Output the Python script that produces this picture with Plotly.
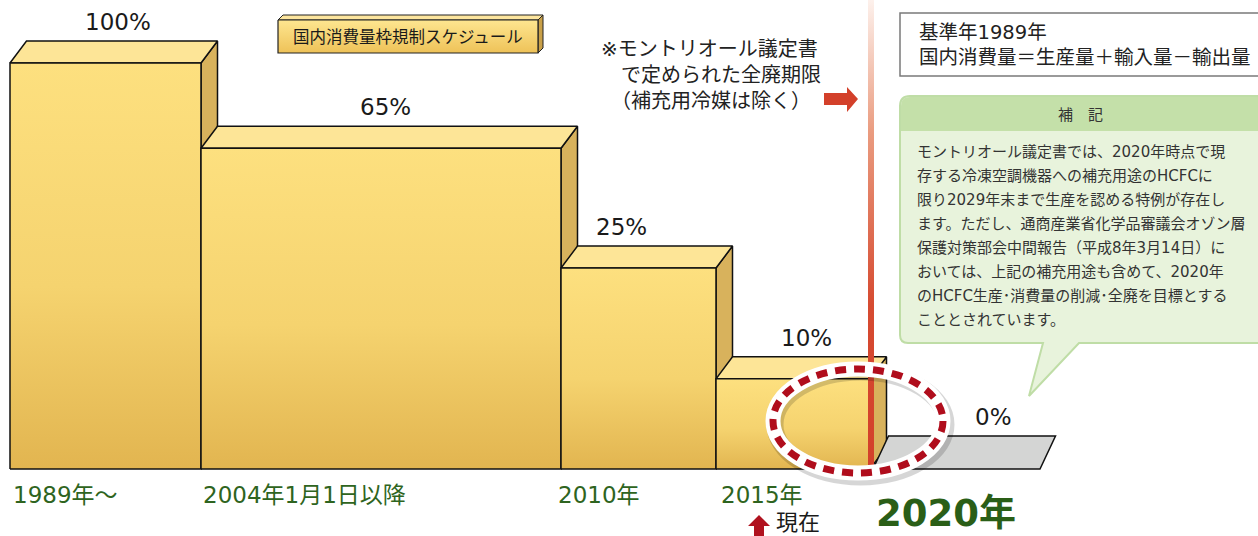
import plotly.graph_objects as go

# ---------------- data ----------------
periods = ["1989年〜", "2004年1月1日以降", "2010年", "2015年"]
final_year = "2020年"
share_pct = [100, 65, 25, 10, 0]            # printed shares of the 1989 baseline
drawn_level = [100, 79, 49.5, 22.2, 0]       # block heights as drawn (the artwork is schematic, not to scale)
share_labels = [f"{v}%" for v in share_pct]

title_text = "国内消費量枠規制スケジュール"
note_lines = ["※モントリオール議定書", "　で定められた全廃期限", "　（補充用冷媒は除く）"]
base_lines = ["基準年1989年", "国内消費量＝生産量＋輸入量－輸出量"]
memo_title = "補　記"
memo_lines = [
    "モントリオール議定書では、2020年時点で現",
    "存する冷凍空調機器への補充用途のHCFCに",
    "限り2029年末まで生産を認める特例が存在し",
    "ます。ただし、通商産業省化学品審議会オゾン層",
    "保護対策部会中間報告（平成8年3月14日）に",
    "おいては、上記の補充用途も含めて、2020年",
    "のHCFC生産･消費量の削減･全廃を目標とする",
    "こととされています。",
]
now_text = "現在"

# ---------------- layout constants ----------------
W, H = 1258, 536
FONT = "DejaVu Sans, Noto Sans CJK JP"
BASE_PX, TOP_PX = 469, 63
UNIT = (BASE_PX - TOP_PX) / 100.0
Y_LO = -(H - BASE_PX) / UNIT
Y_HI = BASE_PX / UNIT
EDGES = [10, 201, 561, 716, 870]
DX, DY = 16.5, 22 / UNIT
FLOOR_X0, FLOOR_X1, FLOOR_DX, FLOOR_DY = 873, 1040, 15.5, 33 / UNIT
LABEL_X = [118, 385, 621, 806, 993]
PERIOD_X = [12, 202, 557, 720]

FRONT_SCALE = [[0, "#E2B550"], [0.45, "#F5D36F"], [1, "#FDE07F"]]
TOP_COL = "#FDE597"
SIDE_COL = "#D8B25C"
EDGE = dict(color="#111111", width=1.5)

fig = go.Figure()


def poly(xs, ys, fill=None, grad=None, line=EDGE, yaxis="y"):
    tr = dict(x=xs + [xs[0]], y=ys + [ys[0]], mode="lines", fill="toself",
              line=line, hoverinfo="skip", showlegend=False, yaxis=yaxis)
    if grad is not None:
        tr["fillgradient"] = grad
    else:
        tr["fillcolor"] = fill
    fig.add_trace(go.Scatter(**tr))


# blocks (drawn left to right so later blocks hide earlier side faces)
for i in range(4):
    x0, x1, h = EDGES[i], EDGES[i + 1], drawn_level[i]
    poly([x1, x1 + DX, x1 + DX, x1], [0, DY, h + DY, h], fill=SIDE_COL)          # side
    poly([x0, x1, x1 + DX, x0 + DX], [h, h, h + DY, h + DY], fill=TOP_COL)       # top
    poly([x0, x1, x1, x0], [0, 0, h, h],                                           # front
         grad=dict(type="vertical", colorscale=FRONT_SCALE, start=0, stop=h))

# 0% floor
fl = drawn_level[4]
poly([FLOOR_X0, FLOOR_X1, FLOOR_X1 + FLOOR_DX, FLOOR_X0 + FLOOR_DX],
     [fl, fl, fl + FLOOR_DY, fl + FLOOR_DY], fill="#D4D5D4")

# red deadline line (fades out upward)
poly([868, 874, 874, 868], [0, 0, Y_HI, Y_HI],
     grad=dict(type="vertical", start=0, stop=Y_HI,
               colorscale=[[0, "#D3402A"], [0.35, "#D64B31"], [0.72, "#EA9C80"], [1, "#FDF1EC"]]),
     line=dict(width=0))

# title box (pixel axis y2)
poly([278, 538, 543, 283], [20, 20, 15, 15], fill="#FCE59E", line=dict(color="#222", width=1), yaxis="y2")
poly([538, 543, 543, 538], [20, 15, 48, 53], fill="#C9A048", line=dict(color="#222", width=1), yaxis="y2")
poly([278, 538, 538, 278], [20, 20, 53, 53],
     grad=dict(type="vertical", start=20, stop=53, colorscale=[[0, "#FEE690"], [1, "#EEC258"]]),
     line=dict(color="#222", width=1.2), yaxis="y2")

fig.update_layout(
    width=W, height=H, margin=dict(l=0, r=0, t=0, b=0, pad=0),
    paper_bgcolor="white", plot_bgcolor="white",
    xaxis=dict(range=[0, W], visible=False, fixedrange=True),
    yaxis=dict(range=[Y_LO, Y_HI], visible=False, fixedrange=True),
    yaxis2=dict(range=[H, 0], visible=False, overlaying="y", fixedrange=True),
    showlegend=False,
    font=dict(family=FONT),
)

shapes = []
shapes.append(dict(type="rect", xref="x", yref="y2", x0=900, x1=1262, y0=13, y1=76,
                   fillcolor="white", line=dict(color="#7a7a7a", width=1.5), layer="below"))
shapes.append(dict(type="path", xref="x", yref="y2", layer="below",
                   path="M 910,96 L 1262,96 L 1262,343 L 1079,343 L 1029,396 L 1043,343 L 908,343 "
                        "Q 900,343 900,335 L 900,106 Q 900,96 910,96 Z",
                   fillcolor="#E8F3DC", line=dict(color="#BFDDA6", width=2)))
shapes.append(dict(type="path", xref="x", yref="y2", layer="below",
                   path="M 910,97 L 1262,97 L 1262,131 L 901,131 L 901,106 Q 901,97 910,97 Z",
                   fillcolor="#C4E0A9", line=dict(width=0)))
shapes.append(dict(type="path", xref="x", yref="y2", layer="above",
                   path="M 824,93 L 847,93 L 847,87 L 858,99 L 847,112 L 847,105 L 824,105 Z",
                   fillcolor="#D3402A", line=dict(width=0)))
shapes.append(dict(type="path", xref="x", yref="y2", layer="above",
                   path="M 759,515 L 770,526 L 764,526 L 764,537 L 754,537 L 754,526 L 748,526 Z",
                   fillcolor="#B0121F", line=dict(width=0)))
shapes.append(dict(type="circle", xref="x", yref="y2", layer="above", x0=775, x1=946, y0=372, y1=477,
                   line=dict(color="rgba(0,0,0,0.16)", width=17)))
shapes.append(dict(type="circle", xref="x", yref="y2", layer="above", x0=773, x1=943, y0=369, y1=473,
                   line=dict(color="white", width=15)))
shapes.append(dict(type="circle", xref="x", yref="y2", layer="above", x0=773, x1=943, y0=369, y1=473,
                   line=dict(color="#B00D1C", width=7, dash="11px,8px")))
fig.update_layout(shapes=shapes)


def txt(x, y, s, size, color="#222", anchor="left", yref="y2", yanchor="middle"):
    fig.add_annotation(x=x, y=y, xref="x", yref=yref, text=s, showarrow=False, align="left",
                       xanchor=anchor, yanchor=yanchor, borderpad=0,
                       font=dict(size=size, color=color, family=FONT))


for i, lab in enumerate(share_labels):
    top = drawn_level[i] + (DY if i < 4 else FLOOR_DY)
    txt(LABEL_X[i], top + 19 / UNIT, lab, 23, "#1a1a1a", "center", yref="y")

for i, p in enumerate(periods):
    txt(PERIOD_X[i], 495, p, 23, "#2E6420")
txt(946, 536, f"<b>{final_year}</b>", 37, "#2A5E17", "center", yanchor="bottom")
txt(775, 536, now_text, 22, "#1a1a1a", yanchor="bottom")

txt(408, 37, title_text, 16.5, "#1a1a1a", "center")

txt(600, 75, "<br>".join(note_lines), 20)

txt(918, 45, "<br>".join(base_lines), 19.5)

txt(1080, 115, memo_title, 15, "#333", "center")
for k, line in enumerate(memo_lines):
    txt(916, 152 + 24 * k, line, 15, "#333")

fig.write_html("out.html")
